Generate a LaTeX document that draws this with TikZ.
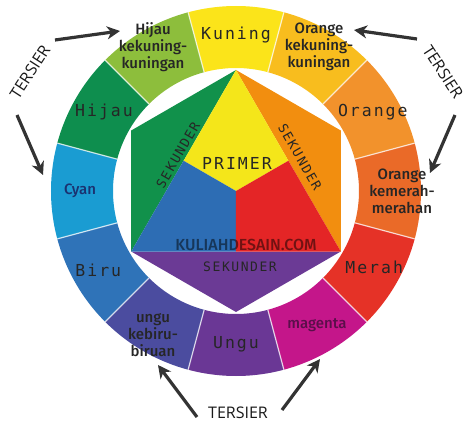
\documentclass[tikz,border=0pt]{standalone}
\usepackage{fontspec}
\usetikzlibrary{arrows.meta}
\newfontfamily\wheelmono[LetterSpace=12]{DejaVu Sans Mono}
\newfontfamily\wheelsmall{Fira Sans Medium}
\newfontfamily\wheelsans{Open Sans}

\definecolor{kuning}{HTML}{FBE41A}
\definecolor{orangekk}{HTML}{F8BD1E}
\definecolor{orangering}{HTML}{F2922C}
\definecolor{orangekm}{HTML}{EA6A28}
\definecolor{merah}{HTML}{E53227}
\definecolor{magentaring}{HTML}{C4168A}
\definecolor{ungu}{HTML}{6A3795}
\definecolor{ungukb}{HTML}{4B4C9F}
\definecolor{biru}{HTML}{2F73B8}
\definecolor{cyanring}{HTML}{1A9CD2}
\definecolor{hijau}{HTML}{0E8E4E}
\definecolor{hijaukk}{HTML}{8DBE3C}
\definecolor{hexgreen}{HTML}{11914B}
\definecolor{hexorange}{HTML}{F28E0F}
\definecolor{hexpurple}{HTML}{6B3A95}
\definecolor{hexyellow}{HTML}{F4E61A}
\definecolor{hexblue}{HTML}{2D6DB4}
\definecolor{hexred}{HTML}{E42526}
\definecolor{magentatext}{HTML}{5A0F4A}
\definecolor{cyantext}{HTML}{1B3270}

\begin{document}
\begin{tikzpicture}[x=1pt,y=1pt,
    ring label/.style={font=\wheelmono\fontsize{16.5}{18}\selectfont,text=black!85},
    small label/.style={font=\wheelsmall\fontsize{15}{17}\selectfont,align=center,text=black!85},
    sekunder label/.style={font=\wheelmono\fontsize{13}{15}\selectfont,text=black!85},
    tersier/.style={font=\wheelsans\fontsize{16}{18}\selectfont,text=black!90},
    tersier arrow/.style={-{Stealth[length=13pt,width=13pt,inset=4pt]},line width=3.2pt,draw=black!80}]

    \useasboundingbox (-236,-243) rectangle (238,191);

    % outer ring
    \foreach \ang/\col in {90/kuning,60/orangekk,30/orangering,0/orangekm,-30/merah,-60/magentaring,
                           -90/ungu,-120/ungukb,-150/biru,180/cyanring,150/hijau,120/hijaukk}
        \fill[\col] ({\ang-15}:123) arc[start angle=\ang-15,end angle=\ang+15,radius=123pt]
            -- ({\ang+15}:185) arc[start angle=\ang+15,end angle=\ang-15,radius=185pt] -- cycle;
    \foreach \ang in {15,45,...,345}
        \draw[white,line width=1.2pt,opacity=0.75] (\ang:123) -- (\ang:185);

    % hexagon
    \coordinate (h1) at (90:121);
    \coordinate (h2) at (150:121);
    \coordinate (h3) at (210:121);
    \coordinate (h4) at (270:121);
    \coordinate (h5) at (330:121);
    \coordinate (h6) at (30:121);
    \coordinate (ml) at (-52.4,30.25);
    \coordinate (mr) at (52.4,30.25);
    \coordinate (mb) at (0,-60.5);
    \coordinate (c) at (0,0);

    \fill[hexgreen] (h1) -- (h2) -- (h3) -- cycle;
    \fill[hexorange] (h1) -- (h6) -- (h5) -- cycle;
    \fill[hexpurple] (h3) -- (h4) -- (h5) -- cycle;
    \fill[hexyellow] (h1) -- (ml) -- (c) -- (mr) -- cycle;
    \fill[hexblue] (h3) -- (ml) -- (c) -- (mb) -- cycle;
    \fill[hexred] (h5) -- (mr) -- (c) -- (mb) -- cycle;

    % ring labels
    \node[ring label] (kuning) at (90:156) {Kuning};
    \node[small label] (orangekk) at (60:166) {Orange\\kekuning-\\kuningan};
    \node[ring label] (orange) at (30:158) {Orange};
    \node[small label] (orangekm) at (0:166) {Orange\\kemerah-\\merahan};
    \node[ring label] (merah) at (-29:158) {Merah};
    \node[small label,text=magentatext] (magenta) at (-59:157) {magenta};
    \node[ring label] (ungu) at (-90:153) {Ungu};
    \node[small label] (ungukb) at (-120:166) {ungu\\kebiru-\\biruan};
    \node[ring label] (biru) at (-150:159) {Biru};
    \node[small label,text=cyantext] (cyan) at (180:156) {Cyan};
    \node[ring label] (hijau) at (149:154) {Hijau};
    \node[small label] (hijaukk) at (120:166) {Hijau\\kekuning-\\kuningan};

    % inner labels
    \node[ring label] (primer) at (1,28) {PRIMER};
    \node[sekunder label,rotate=60] (sekl) at (-58,36) {SEKUNDER};
    \node[sekunder label,rotate=-60] (sekr) at (64,34) {SEKUNDER};
    \node[sekunder label] (sekb) at (4,-76) {SEKUNDER};
    \node[font=\wheelsmall\fontsize{16}{18}\selectfont,text=black,text opacity=0.5] (site) at (10,-54) {KULIAHDESAIN.COM};

    % tersier
    \node[tersier,rotate=57] (terl) at (-206,119) {TERSIER};
    \node[tersier,rotate=-57] (terr) at (207,119) {TERSIER};
    \node[tersier] (terb) at (2,-222) {TERSIER};

    \coordinate (la1) at (-181,151);
    \coordinate (la2) at (-116,160);
    \coordinate (lb1) at (-219,76);
    \coordinate (lb2) at (-193,16);
    \coordinate (ra1) at (181,152);
    \coordinate (ra2) at (118,161);
    \coordinate (rb1) at (219,76);
    \coordinate (rb2) at (194,18);
    \coordinate (ba1) at (-39,-226);
    \coordinate (ba2) at (-78,-174);
    \coordinate (bb1) at (46,-219);
    \coordinate (bb2) at (84,-168);

    \draw[tersier arrow] (la1) -- (la2);
    \draw[tersier arrow] (lb1) -- (lb2);
    \draw[tersier arrow] (ra1) -- (ra2);
    \draw[tersier arrow] (rb1) -- (rb2);
    \draw[tersier arrow] (ba1) -- (ba2);
    \draw[tersier arrow] (bb1) -- (bb2);
\end{tikzpicture}
\end{document}
